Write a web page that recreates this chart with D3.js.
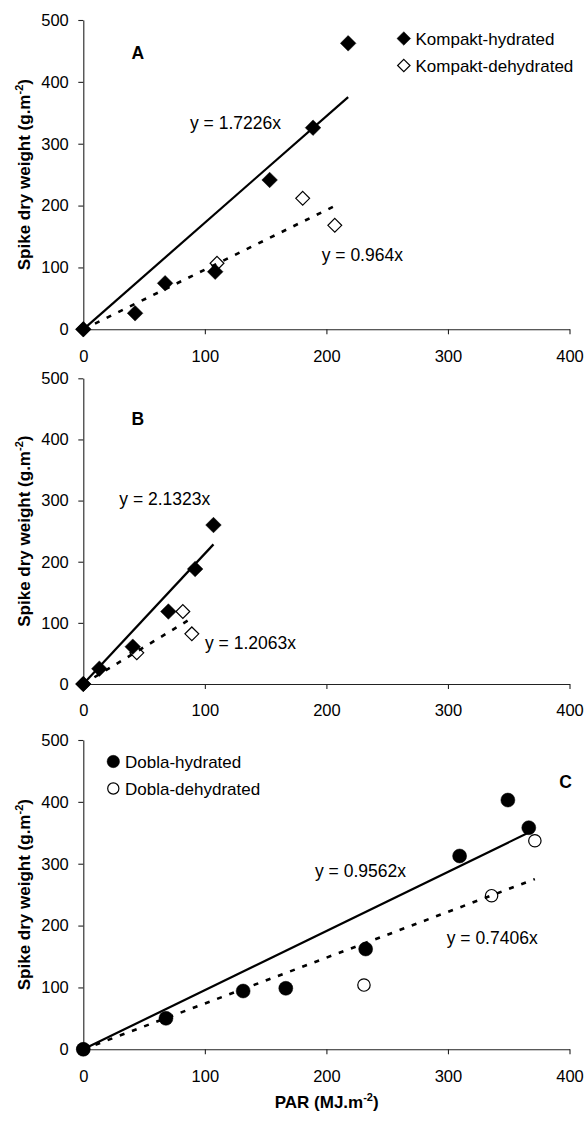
<!DOCTYPE html>
<html><head><meta charset="utf-8">
<script src="https://cdn.jsdelivr.net/npm/d3@7"></script>
<style>
body{margin:0;background:#fff}
svg text{font-family:"Liberation Sans",Arial,Helvetica,sans-serif;fill:#000}
</style>
</head><body>
<svg id="chart" width="587" height="1121"></svg>
<script>
// ---- tick labels ----
const xTicks = [0, 100, 200, 300, 400];
const yTicks = [0, 100, 200, 300, 400, 500];

// ---- Panel A : Kompakt ----
const aHydX = [0, 42.6, 67.3, 108.5, 153.3, 189.0, 217.9];
const aHydY = [0, 25.9, 74.4, 93.1, 241.4, 325.9, 462.3];
const aDehX = [0, 110.0, 180.5, 206.9];
const aDehY = [0, 106.7, 211.7, 168.1];
const aSlopes = [1.7226, 0.964];
const aEq = ["y = 1.7226x", "y = 0.964x"];

// ---- Panel B : Kompakt ----
const bHydX = [0, 13.2, 40.7, 70.0, 92.0, 107.1];
const bHydY = [0, 25, 61, 118.5, 188, 260];
const bDehX = [0, 44.0, 81.9, 89.3];
const bDehY = [0, 51, 118.5, 82];
const bSlopes = [2.1323, 1.2063];
const bEq = ["y = 2.1323x", "y = 1.2063x"];

// ---- Panel C : Dobla ----
const cHydX = [0, 68.0, 131.5, 166.6, 232.3, 309.6, 349.3, 366.5];
const cHydY = [0, 50.1, 94.2, 98.6, 162.1, 312.5, 402.9, 358.2];
const cDehX = [0, 230.9, 335.9, 371.5];
const cDehY = [0, 103.9, 248.3, 337.1];
const cSlopes = [0.9562, 0.7406];
const cEq = ["y = 0.9562x", "y = 0.7406x"];

const kompaktLegend = ["Kompakt-hydrated", "Kompakt-dehydrated"];
const doblaLegend = ["Dobla-hydrated", "Dobla-dehydrated"];
const panelLetters = ["A", "B", "C"];

const svg = d3.select("#chart");
const FONT = "Liberation Sans, Arial, sans-serif";

function diamondPath(s){ return `M0,${-s}L${s},0L0,${s}L${-s},0Z`; }

function drawMarker(g, shape, filled, x, y, size){
  if(shape === "diamond"){
    g.append("path").attr("d", diamondPath(filled ? size : size - 0.6))
      .attr("transform", `translate(${x},${y})`)
      .attr("fill", filled ? "#000" : "#fff")
      .attr("stroke", "#000").attr("stroke-width", filled ? 0.5 : 1.2);
  } else {
    g.append("circle").attr("cx", x).attr("cy", y).attr("r", filled ? size : size - 0.6)
      .attr("fill", filled ? "#000" : "#fff")
      .attr("stroke", "#000").attr("stroke-width", filled ? 0.5 : 1.2);
  }
}

function drawPanel(p){
  const g = svg.append("g");
  const x = d3.scaleLinear().domain([0, 400]).range([83.3, 569.5]);
  const y = d3.scaleLinear().domain([0, 500]).range([p.bottom, p.top]);

  // axes
  const ax = g.append("g").attr("transform", `translate(0,${p.bottom})`)
    .call(d3.axisBottom(x).tickValues(xTicks).tickSize(5).tickSizeOuter(0).tickPadding(15.7));
  const ay = g.append("g").attr("transform", `translate(83.3,0)`)
    .call(d3.axisLeft(y).tickValues(yTicks).tickSize(5).tickSizeOuter(0).tickPadding(9.5));
  [ax, ay].forEach(a => {
    a.selectAll("path.domain").attr("stroke", "#222").attr("stroke-width", 1.1);
    a.selectAll(".tick line").attr("stroke", "#222").attr("stroke-width", 1.1);
    a.selectAll(".tick text").attr("font-family", FONT).attr("font-size", 16.5).attr("fill", "#000");
  });

  // y title
  const yt = g.append("text")
    .attr("transform", `translate(29.5,${(p.top + p.bottom) / 2}) rotate(-90)`)
    .attr("text-anchor", "middle").attr("font-weight", "bold").attr("font-size", 17)
    .attr("font-family", FONT);
  yt.append("tspan").text("Spike dry weight (g.m");
  yt.append("tspan").attr("font-size", 11).attr("dy", -7).text("-2");
  yt.append("tspan").attr("dy", 7).text(")");

  // markers: dehydrated first, hydrated on top
  p.dehX.forEach((v, i) => drawMarker(g, p.shape, false, x(v), y(p.dehY[i]), p.shape === "diamond" ? 7.5 : 6.8));
  p.hydX.forEach((v, i) => drawMarker(g, p.shape, true, x(v), y(p.hydY[i]), p.shape === "diamond" ? 7.8 : 7));

  // trend lines
  const hMax = d3.max(p.hydX), dMax = d3.max(p.dehX);
  g.append("line").attr("x1", x(0)).attr("y1", y(0))
    .attr("x2", x(hMax)).attr("y2", y(p.slopes[0] * hMax))
    .attr("stroke", "#000").attr("stroke-width", 2.2);
  g.append("line").attr("x1", x(0)).attr("y1", y(0))
    .attr("x2", x(dMax)).attr("y2", y(p.slopes[1] * dMax))
    .attr("stroke", "#000").attr("stroke-width", 2.6).attr("stroke-dasharray", "5,8");

  // equations
  p.eqPos.forEach((pos, i) => {
    g.append("text").attr("x", pos[0]).attr("y", pos[1])
      .attr("font-size", 17.5).attr("font-family", FONT).text(p.eq[i]);
  });

  // panel letter
  g.append("text").attr("x", p.letterPos[0]).attr("y", p.letterPos[1])
    .attr("text-anchor", "middle").attr("font-weight", "bold").attr("font-size", 17.5)
    .attr("font-family", FONT).text(p.letter);

  // legend
  if(p.legend){
    p.legend.forEach((lab, i) => {
      const ly = p.legendPos[1] + i * 27;
      drawMarker(g, p.shape, i === 0, p.legendPos[0], ly, p.shape === "diamond" ? 6.8 : 6.2);
      g.append("text").attr("x", p.legendPos[0] + 11.7).attr("y", ly + 6)
        .attr("font-size", 17).attr("font-family", FONT).text(lab);
    });
  }
}

drawPanel({top: 20, bottom: 329.3, shape: "diamond",
  hydX: aHydX, hydY: aHydY, dehX: aDehX, dehY: aDehY, slopes: aSlopes, eq: aEq,
  eqPos: [[190, 129.3], [321.7, 260.7]], letter: panelLetters[0], letterPos: [137.7, 59.3],
  legend: kompaktLegend, legendPos: [403.8, 38.5]});

drawPanel({top: 378.3, bottom: 684, shape: "diamond",
  hydX: bHydX, hydY: bHydY, dehX: bDehX, dehY: bDehY, slopes: bSlopes, eq: bEq,
  eqPos: [[119.3, 505], [205, 649.3]], letter: panelLetters[1], letterPos: [137.7, 425],
  legend: null});

drawPanel({top: 740, bottom: 1049.3, shape: "circle",
  hydX: cHydX, hydY: cHydY, dehX: cDehX, dehY: cDehY, slopes: cSlopes, eq: cEq,
  eqPos: [[315, 876.7], [446.7, 944]], letter: panelLetters[2], letterPos: [565.5, 788.3],
  legend: doblaLegend, legendPos: [113.3, 761.5]});

// x title
const xt = svg.append("text").attr("x", 326.7).attr("y", 1108)
  .attr("text-anchor", "middle").attr("font-weight", "bold").attr("font-size", 17)
  .attr("font-family", FONT);
xt.append("tspan").text("PAR (MJ.m");
xt.append("tspan").attr("font-size", 11).attr("dy", -7).text("-2");
xt.append("tspan").attr("dy", 7).text(")");
</script>
</body></html>
